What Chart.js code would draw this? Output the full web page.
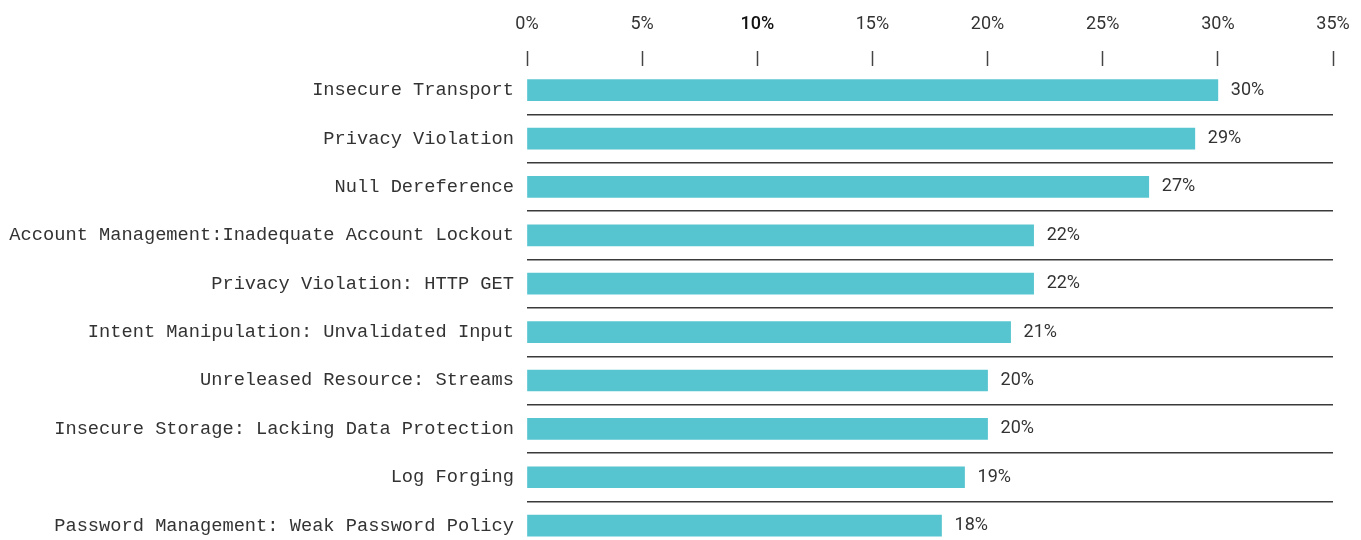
<!DOCTYPE html>
<html>
<head>
<meta charset="utf-8">
<script src="https://cdn.jsdelivr.net/npm/chart.js@4/dist/chart.umd.min.js"></script>
<style>
  html, body { margin: 0; padding: 0; background: #fff; overflow: hidden; }
</style>
</head>
<body>
<canvas id="chart" width="1361" height="574"></canvas>
<script>
const categories = [
  'Insecure Transport',
  'Privacy Violation',
  'Null Dereference',
  'Account Management:Inadequate Account Lockout',
  'Privacy Violation: HTTP GET',
  'Intent Manipulation: Unvalidated Input',
  'Unreleased Resource: Streams',
  'Insecure Storage: Lacking Data Protection',
  'Log Forging',
  'Password Management: Weak Password Policy'
];
const shares = [30, 29, 27, 22, 22, 21, 20, 20, 19, 18];
const xTicks = [0, 5, 10, 15, 20, 25, 30, 35];

const textColor = '#333';
const numFont = 'Roboto';

// percentage printed right after each bar
const valueLabels = {
  id: 'valueLabels',
  afterDatasetsDraw(chart) {
    const ctx = chart.ctx;
    const meta = chart.getDatasetMeta(0);
    ctx.save();
    ctx.font = `18px ${numFont}`;
    ctx.fillStyle = textColor;
    ctx.textAlign = 'left';
    ctx.textBaseline = 'middle';
    meta.data.forEach((bar, i) => {
      ctx.fillText(shares[i] + '%', bar.x + 13, bar.y);
    });
    ctx.restore();
  }
};

new Chart('chart', {
  type: 'bar',
  data: {
    labels: categories,
    datasets: [{
      data: shares,
      backgroundColor: '#57c5d0',
      barThickness: 21
    }]
  },
  plugins: [valueLabels],
  options: {
    indexAxis: 'y',
    responsive: false,
    animation: false,
    layout: { padding: { top: 11, right: 28, left: 0, bottom: 0 } },
    plugins: {
      legend: { display: false },
      tooltip: { enabled: false }
    },
    scales: {
      x: {
        position: 'top',
        min: 0,
        max: 35,
        afterBuildTicks: (scale) => {
          scale.ticks = xTicks.map((v) => ({ value: v }));
        },
        afterFit: (scale) => {
          scale.height -= 13.6;
          scale.paddingRight = 0;
        },
        border: { display: false },
        grid: {
          drawOnChartArea: false,
          tickLength: 15,
          tickWidth: 1.5,
          tickColor: '#444'
        },
        ticks: {
          padding: 16,
          callback: (v) => v + '%',
          color: (c) => (c.tick && c.tick.value === 10 ? '#111' : textColor),
          font: (c) => ({
            family: numFont,
            size: 18,
            weight: c.tick && c.tick.value === 10 ? '500' : 'normal'
          })
        }
      },
      y: {
        border: { display: false },
        afterFit: (scale) => { scale.width = 527; },
        grid: {
          offset: true,
          drawTicks: false,
          lineWidth: 1.5,
          color: (c) => (c.index === 0 ? 'rgba(0,0,0,0)' : '#3a3a3a')
        },
        ticks: {
          padding: 13,
          color: textColor,
          font: { family: 'Liberation Mono', size: 18.7 }
        }
      }
    }
  }
});
</script>
</body>
</html>
